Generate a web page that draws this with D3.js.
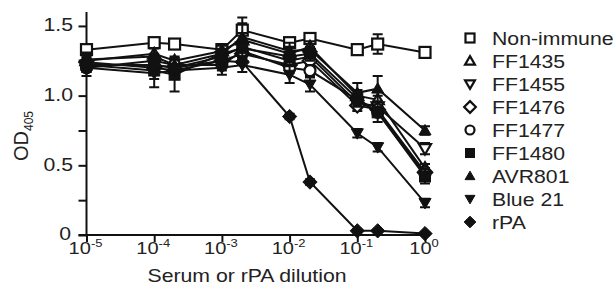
<!DOCTYPE html>
<html>
<head>
<meta charset="utf-8">
<script src="https://cdn.jsdelivr.net/npm/d3@7"></script>
<style>
  body { margin: 0; background: #fff; }
  svg text { font-family: "Liberation Sans", Arial, sans-serif; fill: #222; }
</style>
</head>
<body>
<div id="chart"></div>
<script>
// dilution points (x)
const dilutions = [1e-5, 1e-4, 2e-4, 1e-3, 2e-3, 1e-2, 2e-2, 1e-1, 2e-1, 1];

// OD405 per serum
const nonImmune    = [1.33, 1.38, 1.37, 1.33, 1.47, 1.38, 1.41, 1.33, 1.37, 1.31];
const nonImmuneErr = [0.02, 0.02, 0.02, 0.02, 0.09, 0.03, 0.03, 0.02, 0.07, 0.02];
const ff1435       = [1.25, 1.30, 1.25, 1.32, 1.40, 1.30, 1.35, 1.00, 0.97, 0.48];
const ff1435Err    = [0.03, 0.04, 0.03, 0.05, 0.05, 0.05, 0.04, 0.04, 0.03, 0.03];
const ff1455       = [1.22, 1.22, 1.20, 1.28, 1.35, 1.25, 1.28, 0.95, 0.92, 0.62];
const ff1455Err    = [0.03, 0.03, 0.03, 0.04, 0.04, 0.04, 0.04, 0.04, 0.03, 0.04];
const ff1476       = [1.24, 1.20, 1.18, 1.25, 1.30, 1.22, 1.25, 0.93, 0.90, 0.45];
const ff1476Err    = [0.03, 0.03, 0.03, 0.04, 0.04, 0.04, 0.04, 0.04, 0.03, 0.03];
const ff1477       = [1.20, 1.25, 1.22, 1.22, 1.32, 1.20, 1.18, 0.97, 0.88, 0.44];
const ff1477Err    = [0.03, 0.04, 0.03, 0.04, 0.04, 0.04, 0.04, 0.04, 0.03, 0.03];
const ff1480       = [1.22, 1.18, 1.15, 1.30, 1.34, 1.28, 1.30, 0.98, 0.88, 0.42];
const ff1480Err    = [0.08, 0.12, 0.12, 0.06, 0.06, 0.06, 0.05, 0.06, 0.07, 0.05];
const avr801       = [1.26, 1.28, 1.22, 1.30, 1.42, 1.32, 1.33, 1.02, 1.05, 0.75];
const avr801Err    = [0.05, 0.06, 0.05, 0.06, 0.10, 0.06, 0.04, 0.07, 0.09, 0.03];
const blue21       = [1.20, 1.16, 1.18, 1.20, 1.22, 1.15, 1.08, 0.73, 0.63, 0.23];
const blue21Err    = [0.03, 0.04, 0.04, 0.05, 0.05, 0.06, 0.05, 0.03, 0.03, 0.03];
const rPA          = [1.22, 1.22, 1.20, 1.25, 1.24, 0.85, 0.38, 0.03, 0.03, 0.01];
const rPAErr       = [0.02, 0.02, 0.02, 0.02, 0.02, 0.02, 0.02, 0.01, 0.01, 0.01];

const seriesNames = ["Non-immune", "FF1435", "FF1455", "FF1476", "FF1477", "FF1480", "AVR801", "Blue 21", "rPA"];
const seriesMarks = ["square-open", "tri-up-open", "tri-down-open", "diamond-open", "circle-open",
                     "square", "tri-up", "tri-down", "diamond"];
const seriesValues = [nonImmune, ff1435, ff1455, ff1476, ff1477, ff1480, avr801, blue21, rPA];
const seriesErrors = [nonImmuneErr, ff1435Err, ff1455Err, ff1476Err, ff1477Err, ff1480Err, avr801Err, blue21Err, rPAErr];

const xTickExps = [-5, -4, -3, -2, -1, 0];
const yTicks = [0, 0.25, 0.5, 0.75, 1.0, 1.25, 1.5];
const yTickLabels = {0: "0", 0.5: "0.5", 1: "1.0", 1.5: "1.5"};

const W = 616, H = 288;
const sx = 1.18; // the figure is stretched horizontally

const svg = d3.select("#chart").append("svg")
    .attr("width", W).attr("height", H);

const x = d3.scaleLog().domain([1e-5, 1]).range([86.5, 425]);
const y = d3.scaleLinear().domain([0, 1.6]).range([235, 12]);

function label(g, tx, ty, txt, size, anchor) {
    return g.append("text")
        .attr("transform", `translate(${tx},${ty}) scale(${sx},1)`)
        .attr("text-anchor", anchor || "start")
        .attr("font-size", size)
        .text(txt);
}

// symbol shapes
function marker(g, kind, cx, cy, s) {
    const open = kind.endsWith("-open");
    const base = kind.replace("-open", "");
    let sel;
    if (base === "square") {
        sel = g.append("rect").attr("x", cx - s / 2).attr("y", cy - s / 2)
            .attr("width", s).attr("height", s);
    } else if (base === "circle") {
        sel = g.append("circle").attr("cx", cx).attr("cy", cy).attr("r", s / 2);
    } else if (base === "diamond") {
        const r = s * 0.65;
        sel = g.append("path").attr("d", `M${cx},${cy - r}L${cx + r},${cy}L${cx},${cy + r}L${cx - r},${cy}Z`);
    } else {
        const h = s * 0.9, w = s * 1.1;
        const d = base === "tri-up"
            ? `M${cx},${cy - h * 0.6}L${cx + w / 2},${cy + h * 0.45}L${cx - w / 2},${cy + h * 0.45}Z`
            : `M${cx},${cy + h * 0.6}L${cx + w / 2},${cy - h * 0.45}L${cx - w / 2},${cy - h * 0.45}Z`;
        sel = g.append("path").attr("d", d);
    }
    sel.attr("fill", open ? "#fff" : "#111")
        .attr("stroke", "#111")
        .attr("stroke-width", open ? 2.2 : 1);
    return sel;
}

// axes
const yAxis = svg.append("g")
    .attr("transform", "translate(86.5,0)")
    .call(d3.axisLeft(y).tickValues(yTicks).tickSize(8).tickFormat(""));
yAxis.select(".domain").attr("d", `M0,${y(1.6)}V${y(0)}`);
yAxis.selectAll("line, path").attr("stroke", "#111").attr("stroke-width", 2);
yTicks.filter(v => yTickLabels[v] !== undefined).forEach(v => {
    label(svg, v === 0 ? 71 : 73, y(v) + (v === 0 ? 4.5 : 5.5), yTickLabels[v], 18, "end");
});

const xAxis = svg.append("g")
    .attr("transform", `translate(0,${y(0)})`)
    .call(d3.axisBottom(x).tickValues(xTickExps.map(e => Math.pow(10, e))).tickSize(7).tickFormat(""));
xAxis.select(".domain").attr("d", `M${x(1e-5) - 8},0H${x(1) + 1}`);
xAxis.selectAll("line, path").attr("stroke", "#111").attr("stroke-width", 2);
xTickExps.forEach(e => {
    const t = svg.append("text")
        .attr("transform", `translate(${x(Math.pow(10, e)) - 1},254) scale(${sx},1)`)
        .attr("text-anchor", "middle")
        .attr("font-size", 17);
    t.append("tspan").text("10");
    t.append("tspan").attr("font-size", 11).attr("dy", -7).text(e);
});

// axis titles
label(svg, 247, 282, "Serum or rPA dilution", 18, "middle");
const yt = svg.append("text")
    .attr("transform", "translate(28,136) rotate(-90)")
    .attr("text-anchor", "middle")
    .attr("font-size", 20);
yt.append("tspan").text("OD");
yt.append("tspan").attr("font-size", 12).attr("dy", 5).text("405");

// series
const line = d3.line().x(d => x(d[0])).y(d => y(d[1]));
seriesNames.forEach((name, i) => {
    const pts = dilutions.map((dv, j) => [dv, seriesValues[i][j], seriesErrors[i][j]]);
    const g = svg.append("g");
    g.append("path").datum(pts)
        .attr("fill", "none").attr("stroke", "#111").attr("stroke-width", 2)
        .attr("d", line);
    pts.forEach(p => {
        const px = x(p[0]);
        g.append("path")
            .attr("d", `M${px},${y(p[1] - p[2])}V${y(p[1] + p[2])}M${px - 5},${y(p[1] + p[2])}h10M${px - 5},${y(p[1] - p[2])}h10`)
            .attr("stroke", "#111").attr("stroke-width", 2).attr("fill", "none");
    });
    pts.forEach(p => marker(g, seriesMarks[i], x(p[0]), y(p[1]), 11));
});

// legend
seriesNames.forEach((name, i) => {
    const ly = 38 + i * 23;
    marker(svg, seriesMarks[i], 470, ly, 9);
    label(svg, 492, ly + 7, name, 18, "start");
});
</script>
</body>
</html>
